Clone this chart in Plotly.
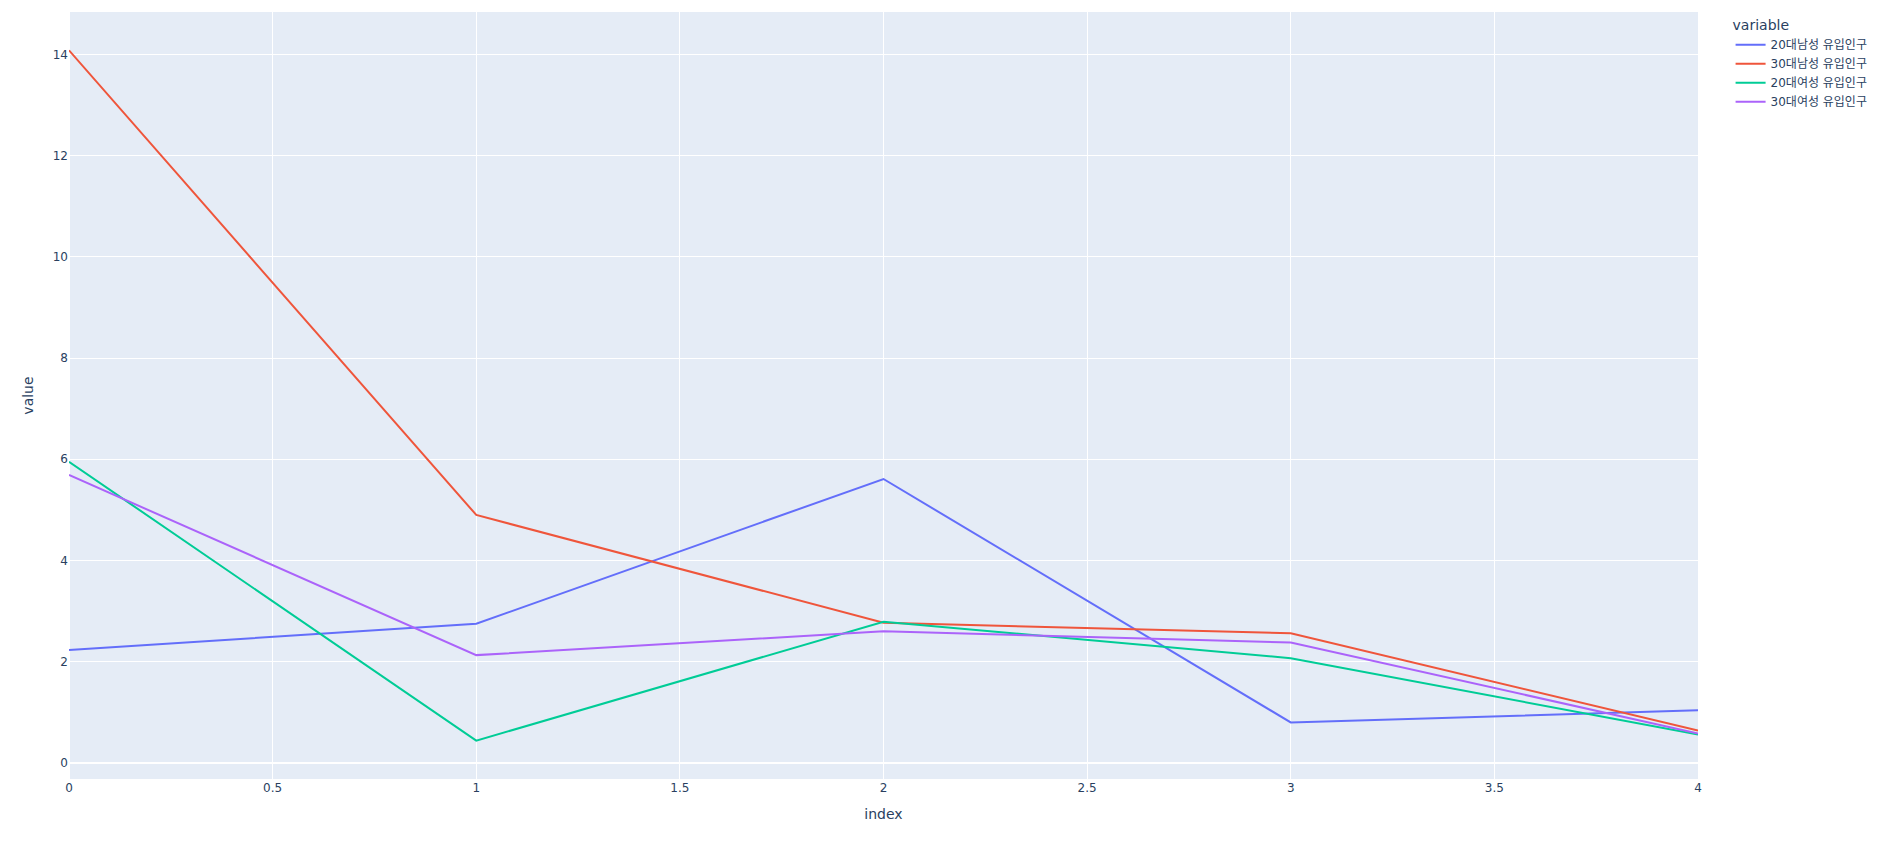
import plotly.graph_objects as go

index = [0, 1, 2, 3, 4]
series_names = ["20대남성 유입인구", "30대남성 유입인구", "20대여성 유입인구", "30대여성 유입인구"]
male20 = [2.23, 2.75, 5.61, 0.80, 1.04]
male30 = [14.08, 4.90, 2.77, 2.56, 0.64]
female20 = [5.95, 0.44, 2.79, 2.07, 0.56]
female30 = [5.69, 2.13, 2.60, 2.38, 0.58]
colors = ["#636efa", "#EF553B", "#00cc96", "#ab63fa"]

fig = go.Figure()
for name, vals, c in zip(series_names, [male20, male30, female20, female30], colors):
    fig.add_trace(go.Scatter(x=index, y=vals, mode="lines", name=name,
                             line=dict(color=c), legendgroup=name))

fig.update_layout(
    template="plotly",
    width=1869, height=829,
    margin=dict(l=61, r=174, t=4, b=58),
    font=dict(family="DejaVu Sans, Verdana, Noto Sans CJK KR, sans-serif"),
    legend=dict(title=dict(text="variable"), tracegroupgap=0),
    xaxis=dict(title=dict(text="index")),
    yaxis=dict(title=dict(text="value")),
)
fig.write_html("out.html")
